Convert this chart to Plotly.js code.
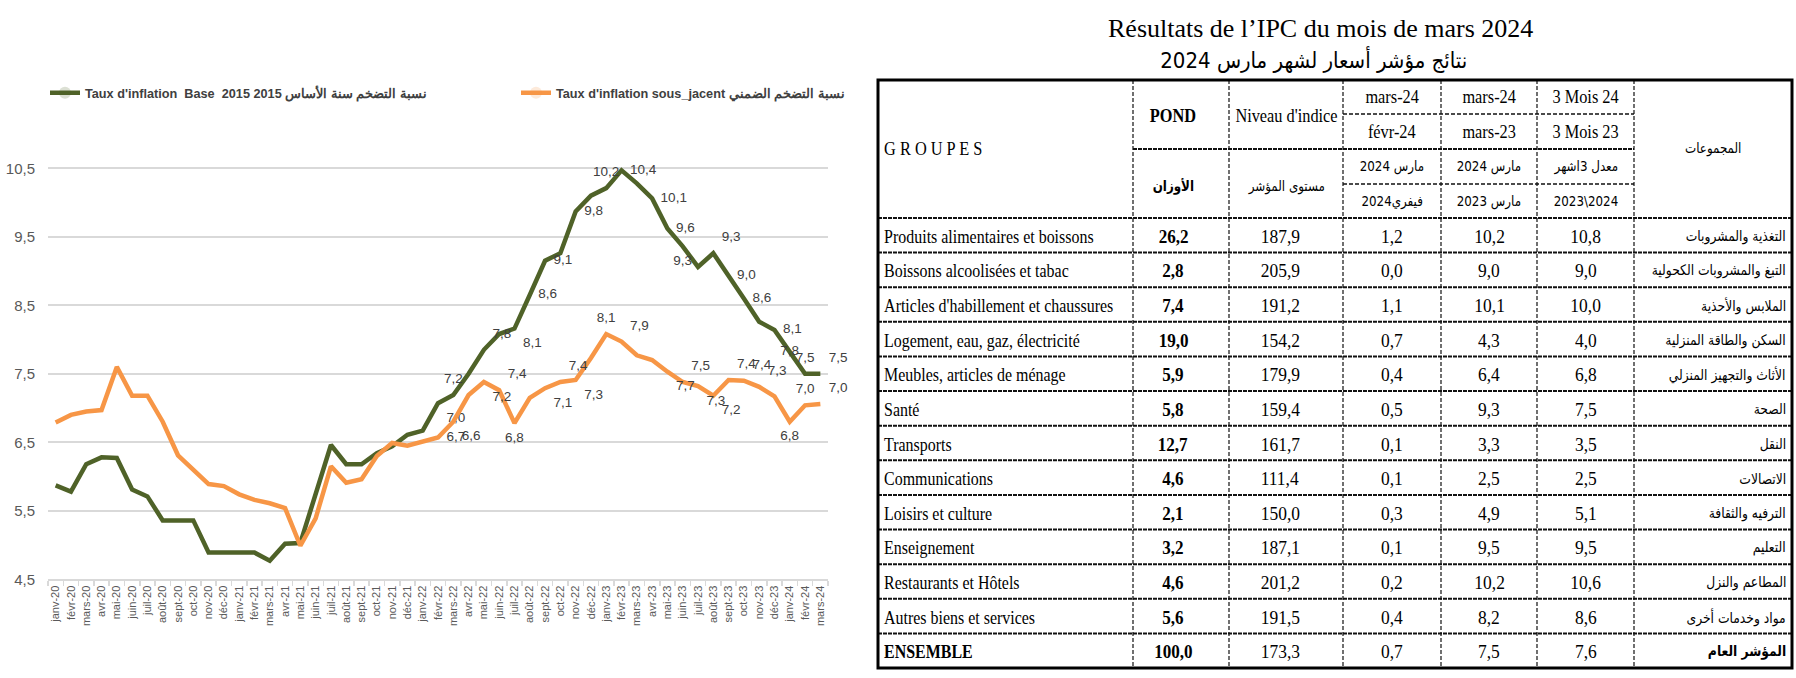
<!DOCTYPE html>
<html><head><meta charset="utf-8">
<script src="https://cdn.plot.ly/plotly-3.0.1.min.js"></script>
<style>html,body{margin:0;padding:0;background:#fff}#chart{width:1796px;height:678px}</style>
</head><body><div id="chart"></div>
<script>
// ---------------- DATA ----------------
const months = ['janv-20','févr-20','mars-20','avr-20','mai-20','juin-20','juil-20','août-20','sept-20','oct-20','nov-20','déc-20',
 'janv-21','févr-21','mars-21','avr-21','mai-21','juin-21','juil-21','août-21','sept-21','oct-21','nov-21','déc-21',
 'janv-22','févr-22','mars-22','avr-22','mai-22','juin-22','juil-22','août-22','sept-22','oct-22','nov-22','déc-22',
 'janv-23','févr-23','mars-23','avr-23','mai-23','juin-23','juil-23','août-23','sept-23','oct-23','nov-23','déc-23',
 'janv-24','févr-24','mars-24'];
const baseRate = [5.87,5.78,6.18,6.28,6.27,5.81,5.71,5.36,5.36,5.36,4.89,4.89,
 4.89,4.89,4.77,5.02,5.03,5.74,6.46,6.18,6.18,6.34,6.44,6.61,
 6.67,7.07,7.19,7.50,7.85,8.08,8.16,8.65,9.15,9.26,9.87,10.10,
 10.21,10.47,10.28,10.06,9.62,9.36,9.06,9.26,8.94,8.60,8.26,8.14,
 7.82,7.50,7.50];
const coreRate = [6.79,6.90,6.95,6.97,7.60,7.18,7.18,6.80,6.31,6.10,5.89,5.86,
 5.74,5.66,5.61,5.54,4.99,5.39,6.15,5.91,5.96,6.30,6.49,6.45,
 6.51,6.57,6.80,7.19,7.38,7.26,6.78,7.15,7.29,7.38,7.41,7.73,
 8.08,7.97,7.77,7.70,7.53,7.38,7.32,7.18,7.41,7.40,7.31,7.17,
 6.80,7.04,7.06];
const baseLabels = ['','','','','','','','','','','','',
 '','','','','','','','','','','','',
 '','7,0','7,2','','7,8','','8,1','8,6','9,1','','9,8','',
 '10,2','10,4','','10,1','9,6','9,3','','9,3','9,0','8,6','','8,1',
 '7,8','7,5','7,5'];
const coreLabels = ['','','','','','','','','','','','',
 '','','','','','','','','','','','',
 '','6,7','6,6','','7,2','7,4','6,8','','7,1','7,4','7,3','',
 '8,1','7,9','','','7,7','7,5','7,3','7,2','7,4','7,4','7,3','',
 '6,8','7,0','7,0'];
const baseName = "Taux d'inflation  Base  2015 2015 نسبة التضخم سنة الأساس";
const coreName = "Taux d'inflation sous_jacent نسبة التضخم الضمني";

const tableTitle1 = 'Résultats de l’IPC du mois de mars 2024';
const tableTitle2 = 'نتائج مؤشر أسعار لشهر مارس 2024';
const headGroupsFr = 'G R O U P E S';
const headGroupsAr = 'المجموعات';
const headPond = ['POND','الأوزان'];
const headIndex = ["Niveau d'indice",'مستوى المؤشر'];
const headVarMonth = ['mars-24','févr-24','مارس 2024','فيفري2024'];
const headVarYear = ['mars-24','mars-23','مارس 2024','مارس 2023'];
const headVar3m = ['3 Mois 24','3 Mois 23','معدل 3اشهر','2023\\2024'];

const groupsFr = ['Produits alimentaires et boissons','Boissons alcoolisées et tabac','Articles d\'habillement et chaussures',
 'Logement, eau, gaz, électricité','Meubles, articles de ménage','Santé','Transports','Communications',
 'Loisirs et culture','Enseignement','Restaurants et Hôtels','Autres biens et services','ENSEMBLE'];
const groupsAr = ['التغذية والمشروبات','التبغ والمشروبات الكحولية','الملابس والأحذية','السكن والطاقة المنزلية',
 'الأثاث والتجهيز المنزلي','الصحة','النقل','الاتصالات','الترفيه والثقافة','التعليم','المطاعم والنزل',
 'مواد وخدمات أخرى','المؤشر العام'];
const pond = [26.2,2.8,7.4,19.0,5.9,5.8,12.7,4.6,2.1,3.2,4.6,5.6,100.0];
const indexLevel = [187.9,205.9,191.2,154.2,179.9,159.4,161.7,111.4,150.0,187.1,201.2,191.5,173.3];
const varMonth = [1.2,0.0,1.1,0.7,0.4,0.5,0.1,0.1,0.3,0.1,0.2,0.4,0.7];
const varYear = [10.2,9.0,10.1,4.3,6.4,9.3,3.3,2.5,4.9,9.5,10.2,8.2,7.5];
const var3m = [10.8,9.0,10.0,4.0,6.8,7.5,3.5,2.5,5.1,9.5,10.6,8.6,7.6];

// ---------------- STYLE / LAYOUT ----------------
const W = 1796, H = 678;
const px = x => x / W, py = y => 1 - y / H;
const GREEN = '#4f6228', ORANGE = '#f79646';
const basePos = {25:'bottom right',26:'top center',28:'top right',30:'bottom right',31:'middle right',32:'middle right',
 34:'middle right',36:'top center',37:'middle right',39:'middle right',40:'middle right',41:'bottom center',
 43:'top right',44:'middle right',45:'middle right',47:'middle right',48:'middle center',49:'top center',50:'top right'};
const corePos = {25:'middle right',26:'bottom right',28:'bottom right',29:'top right',30:'bottom center',32:'bottom right',
 33:'top right',34:'bottom right',36:'top center',37:'top right',40:'bottom right',41:'top right',42:'bottom right',
 43:'bottom right',44:'top right',45:'top right',46:'top right',48:'bottom center',49:'top center',50:'top right'};
const posArr = m => months.map((_, i) => m[i] || 'top center');
const labelFont = {family:'Liberation Sans, Arial, sans-serif', size:13.5, color:'#404040'};

const traces = [
 {x: months, y: baseRate, name: baseName, type:'scatter', mode:'lines+markers+text',
  line:{color:GREEN, width:4.5}, marker:{size:12, opacity:0, color:GREEN},
  text: baseLabels, textposition: posArr(basePos), textfont: labelFont, cliponaxis:false, hoverinfo:'skip'},
 {x: months, y: coreRate, name: coreName, type:'scatter', mode:'lines+markers+text',
  line:{color:ORANGE, width:4.5}, marker:{size:12, opacity:0, color:ORANGE},
  text: coreLabels, textposition: posArr(corePos), textfont: labelFont, cliponaxis:false, hoverinfo:'skip'}
];

// table geometry
const colEdges = [878,1133,1229,1343,1441,1537,1634,1792];
const tTop = 80, hBottom = 218, tBottom = 668, nRows = groupsFr.length;
const rowH = (tBottom - hBottom) / nRows;
const subLines = [114,149,184];
const colC = i => (colEdges[i] + colEdges[i+1]) / 2;
const fmt = v => v.toFixed(1).replace('.', ',');

const annotations = [], squish = [];
function addText(text, x, y, o) {
  o = o || {};
  annotations.push({text, x:px(x), y:py(y), xref:'paper', yref:'paper', showarrow:false,
    xanchor:o.anchor || 'center', yanchor:'middle',
    font:{family:o.family || 'Liberation Serif, Times New Roman, serif', size:o.size || 19, color:'#000',
          weight:o.bold ? 'bold' : 'normal'}});
  squish.push(o.squish ? [o.squish, o.anchor || 'center'] : null);
}
const AR = 'DejaVu Sans, sans-serif';
const titleX = (colEdges[0] + colEdges[7]) / 2 - 15;
// titles
addText(tableTitle1, titleX, 29, {size:26});
addText(tableTitle2, titleX - 6, 60, {size:22, family:AR, squish:0.9});
// header
addText(headGroupsFr, 882, 149, {anchor:'left', squish:0.86});
addText(headGroupsAr, colC(6), 149, {family:AR, size:14, squish:0.85});
addText(headPond[0], colC(1) - 8, 116, {bold:true, squish:0.86});
addText(headPond[1], colC(1) - 8, 186, {bold:true, family:AR, size:14, squish:0.85});
addText(headIndex[0], colC(2), 116, {squish:0.86});
addText(headIndex[1], colC(2), 187, {family:AR, size:14, squish:0.85});
const subC = [97,131.5,166.5,201];
[headVarMonth, headVarYear, headVar3m].forEach((h, k) => {
  h.forEach((t, j) => addText(t, colC(3+k), subC[j], j < 2 ? {squish:0.86} : {family:AR, size:14, squish:0.85}));
});
// body
for (let i = 0; i < nRows; i++) {
  const yc = hBottom + (i + 0.5) * rowH + 1;
  const last = i === nRows - 1;
  addText(groupsFr[i], 882, yc, {anchor:'left', squish:0.84, bold:last});
  addText(fmt(pond[i]), colC(1) - 8, yc, {bold:true, squish:0.9});
  addText(fmt(indexLevel[i]), colC(2) - 6, yc, {squish:0.92});
  addText(fmt(varMonth[i]), colC(3), yc, {squish:0.92});
  addText(fmt(varYear[i]), colC(4), yc, {squish:0.92});
  addText(fmt(var3m[i]), colC(5), yc, {squish:0.92});
  addText(groupsAr[i], colEdges[7] - 4, yc, {anchor:'right', family:AR, size:14.5, bold:last, squish:0.85});
}

// shapes
const shapes = [];
const dashV = {color:'#111', width:1.2, dash:'4px,2px'};
const dashH = {color:'#111', width:2, dash:'4px,1px'};
for (let c = 1; c < colEdges.length - 1; c++)
  shapes.push({type:'line', xref:'paper', yref:'paper', x0:px(colEdges[c]), x1:px(colEdges[c]), y0:py(tTop), y1:py(tBottom), line:dashV});
shapes.push({type:'line', xref:'paper', yref:'paper', x0:px(colEdges[3]), x1:px(colEdges[6]), y0:py(subLines[0]), y1:py(subLines[0]), line:{color:'#111', width:1.5, dash:'4px,2px'}});
shapes.push({type:'line', xref:'paper', yref:'paper', x0:px(colEdges[1]), x1:px(colEdges[6]), y0:py(subLines[1]), y1:py(subLines[1]), line:dashH});
shapes.push({type:'line', xref:'paper', yref:'paper', x0:px(colEdges[3]), x1:px(colEdges[6]), y0:py(subLines[2]), y1:py(subLines[2]), line:{color:'#111', width:1.5, dash:'4px,2px'}});
for (let i = 0; i < nRows; i++) {
  const y = hBottom + i * rowH;
  shapes.push({type:'line', xref:'paper', yref:'paper', x0:px(colEdges[0]), x1:px(colEdges[7]), y0:py(y), y1:py(y), line:dashH});
}
shapes.push({type:'rect', xref:'paper', yref:'paper', x0:px(colEdges[0]), x1:px(colEdges[7]), y0:py(tTop), y1:py(tBottom), line:{color:'#000', width:3}});

const layout = {
  width: W, height: H, margin:{l:0, r:0, t:0, b:0},
  paper_bgcolor:'#fff', plot_bgcolor:'#fff',
  separators: ', ',
  showlegend: true,
  legend: {orientation:'h', x:px(45), y:py(93), xanchor:'left', yanchor:'middle',
    entrywidth:426, entrywidthmode:'pixels',
    font:{family:'Liberation Sans, Arial, sans-serif', size:12.7, color:'#404040', weight:'bold'},
    bgcolor:'rgba(0,0,0,0)'},
  xaxis: {domain:[px(48), px(828)], type:'category', range:[-0.5, 50.5],
    showgrid:false, zeroline:false, showline:true, linecolor:'#d9d9d9', linewidth:2,
    ticks:'outside', tickson:'boundaries', ticklen:5, tickcolor:'#d9d9d9', tickwidth:1.5,
    tickangle:-90, tickfont:{family:'Liberation Sans, Arial, sans-serif', size:11, color:'#595959'}},
  yaxis: {domain:[py(579.3), py(134)], range:[4.5, 11], tick0:4.5, dtick:1, tickformat:'.1f',
    showgrid:true, gridcolor:'#d9d9d9', gridwidth:2, zeroline:false, showline:false, ticks:'',
    ticklabelstandoff:12,
    tickfont:{family:'Liberation Sans, Arial, sans-serif', size:15, color:'#595959'}},
  annotations, shapes
};

const gd = document.getElementById('chart');
Plotly.newPlot(gd, traces, layout, {staticPlot:true, displayModeBar:false}).then(() => {
  gd.querySelectorAll('g.annotation').forEach(g => {
    const i = +g.getAttribute('data-index');
    const s = squish[i];
    if (!s) return;
    const t = g.querySelector('text.annotation-text');
    if (!t) return;
    t.style.transformBox = 'fill-box';
    t.style.transformOrigin = s[1] + ' center';
    t.style.transform = 'scaleX(' + s[0] + ')';
  });
});
</script></body></html>
